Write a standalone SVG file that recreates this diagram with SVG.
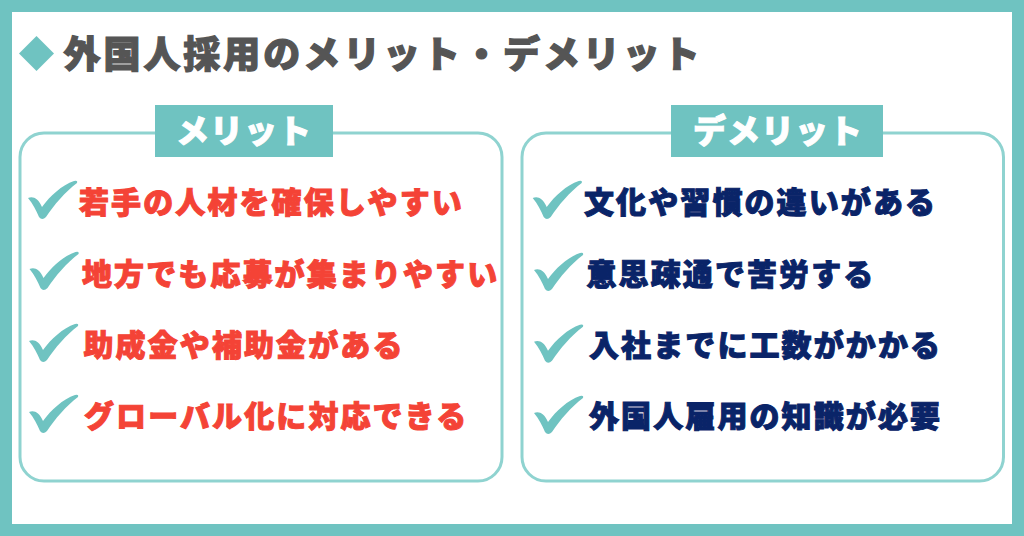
<svg xmlns="http://www.w3.org/2000/svg" width="1024" height="536" viewBox="0 0 1024 536">
<style>
text{font-family:"Noto Sans CJK JP","Noto Sans",sans-serif;font-weight:900;paint-order:stroke}
.title{font-size:37px;letter-spacing:2.950px;fill:#555;stroke:#555;stroke-width:1.2px}
.head{font-size:33px;letter-spacing:1px;fill:#fff;stroke:#fff;stroke-width:1px;text-anchor:middle}
.it{font-size:30px;letter-spacing:2.100px;stroke-width:1px}
.m{fill:#f44336;stroke:#f44336}
.d{fill:#0a2468;stroke:#0a2468}
.panel{fill:#fff;stroke:#8fd3d0;stroke-width:3px}
.tab,.ck{fill:#6fc3c1}
</style>
<defs><path id="ck" class="ck" d="M28 198C33 196 38 198 42 207C50 196 62 185 74 181Q78 180 77 183C65 192 54 205 46 217Q42 221 39 217C36 210 33 204 28 198Z"/></defs>
<rect width="1024" height="536" fill="#6fc3c1"/>
<rect x="12" y="12" width="1000" height="512" fill="#fff"/>
<g id="heading"><path class="ck" d="M36.500 36L54 53.500L36.500 71L19 53.500Z"/><text class="title" x="63.500" y="67.500">外国人採用のメリット・デメリット</text></g>
<g id="merit">
<rect class="panel" x="20" y="133" width="482" height="348" rx="24"/>
<rect class="tab" x="155" y="105" width="178" height="52"/>
<text class="head" x="244" y="143">メリット</text>
<use href="#ck"/><text class="it m" x="79" y="213">若手の人材を確保しやすい</text>
<use href="#ck" x="1.500" y="71"/><text class="it m" x="82" y="285">地方でも応募が集まりやすい</text>
<use href="#ck" x="1" y="143"/><text class="it m" x="83.500" y="356">助成金や補助金がある</text>
<use href="#ck" x="1" y="214"/><text class="it m" x="84" y="427">グローバル化に対応できる</text>
</g>
<g id="demerit">
<rect class="panel" x="522" y="133" width="481.500" height="348" rx="24"/>
<rect class="tab" x="671" y="105" width="212" height="52"/>
<text class="head" x="778" y="143">デメリット</text>
<use href="#ck" x="504.700"/><text class="it d" x="584" y="213">文化や習慣の違いがある</text>
<use href="#ck" x="506" y="72"/><text class="it d" x="586.500" y="285">意思疎通で苦労する</text>
<use href="#ck" x="506" y="143.700"/><text class="it d" x="589" y="356">入社までに工数がかかる</text>
<use href="#ck" x="506" y="215"/><text class="it d" x="589" y="427">外国人雇用の知識が必要</text>
</g>
</svg>
